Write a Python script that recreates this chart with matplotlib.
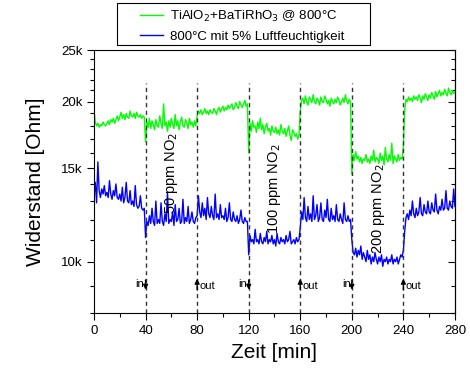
import numpy as np
import matplotlib
matplotlib.use("Agg")
import matplotlib.pyplot as plt
from matplotlib.patches import Rectangle
from matplotlib.ticker import FixedLocator, NullFormatter, MultipleLocator

plt.rcParams['font.family'] = ['Liberation Sans', 'DejaVu Sans']

# Zeit in min (1 min Schritte)
zeit = np.arange(0, 281, 1)

# Widerstand in kOhm, TiAlO2+BaTiRhO3 @ 800°C (grün)
gruen = [
    19.3, 18.3, 18.0, 18.2, 17.9, 18.1, 18.0, 18.3, 18.1, 18.0,
    18.2, 18.4, 18.1, 18.5, 18.3, 18.6, 18.2, 18.5, 18.8, 18.4,
    18.7, 19.1, 18.6, 18.9, 18.5, 19.0, 18.7, 18.6, 19.2, 18.8,
    18.7, 19.0, 18.6, 19.1, 18.8, 18.7, 18.9, 18.6, 18.8, 18.7,
    16.8, 18.3, 17.9, 18.6, 17.8, 18.4, 18.1, 17.7, 18.5, 18.0,
    17.9, 18.8, 18.2, 17.8, 19.8, 18.0, 18.3, 17.6, 18.4, 17.9,
    18.6, 18.1, 17.8, 18.9, 18.0, 18.4, 17.7, 18.3, 18.7, 18.0,
    17.9, 18.5, 18.2, 17.8, 18.6, 18.1, 18.3, 17.9, 18.4, 18.0,
    18.8, 19.2, 19.0, 19.3, 18.9, 19.1, 19.4, 19.0, 19.2, 18.9,
    19.3, 19.1, 19.0, 19.4, 19.2, 18.9, 19.3, 19.5, 19.1, 19.4,
    19.6, 19.2, 19.5, 19.3, 19.7, 19.4, 19.6, 19.8, 19.3, 19.5,
    19.9, 19.6, 19.4, 20.0, 19.7, 19.5, 19.8, 20.1, 19.6, 19.8,
    16.0, 18.2, 17.6, 18.4, 17.9, 18.0, 17.5, 18.3, 17.8, 18.6,
    17.7, 18.1, 17.4, 17.9, 18.2, 17.6, 17.8, 17.3, 18.0, 17.6,
    17.5, 17.9, 17.4, 17.7, 17.3, 18.1, 17.6, 17.4, 17.8, 17.2,
    17.6, 18.0, 17.3, 16.9, 17.7, 17.5, 17.2, 17.4, 17.0, 17.3,
    19.2, 20.1, 20.3, 19.8, 20.5, 20.0, 19.7, 20.4, 20.2, 19.9,
    20.6, 20.0, 19.8, 20.3, 20.1, 19.7, 20.4, 20.0, 19.9, 20.5,
    20.2, 19.8, 20.1, 19.6, 20.3, 20.0, 19.8, 20.2, 19.9, 20.4,
    20.1, 19.7, 20.0, 20.3, 19.9, 20.6, 20.1, 19.8, 20.2, 20.0,
    14.6, 15.9, 15.5, 16.1, 15.6, 15.8, 15.4, 15.7, 15.3, 15.6,
    15.5, 15.9, 15.4, 15.6, 15.3, 15.8, 15.5, 16.2, 15.4, 15.7,
    15.6, 15.3, 16.0, 15.5, 15.8, 15.2, 16.4, 15.6, 15.4, 15.9,
    15.5, 16.7, 15.3, 15.8, 15.6, 15.4, 15.9, 15.5, 15.7, 15.6,
    16.5, 19.3, 20.2, 20.0, 20.4, 20.1, 20.3, 20.0, 20.5, 20.2,
    20.4, 20.1, 20.6, 20.3, 19.9, 20.5, 20.2, 20.7, 20.4, 20.1,
    20.6, 20.3, 20.8, 20.5, 20.2, 20.9, 20.4, 20.7, 21.0, 20.5,
    20.8, 20.6, 21.1, 20.7, 20.5, 21.2, 20.8, 20.6, 21.0, 20.7,
    20.9,
]

# Widerstand in kOhm, 800°C mit 5% Luftfeuchtigkeit (blau)
blau = [
    13.3, 14.1, 12.9, 15.4, 13.6, 13.2, 13.7, 13.4, 13.9, 13.3,
    13.5, 13.2, 14.2, 13.4, 13.1, 13.6, 13.3, 14.0, 13.2, 13.1,
    13.4, 13.0, 13.8, 12.9, 13.2, 14.1, 13.0, 12.9, 13.6, 12.8,
    13.0, 12.7, 13.9, 12.8, 12.6, 12.7, 13.3, 12.6, 12.5, 12.6,
    11.1, 11.9, 11.7, 12.2, 11.8, 12.6, 11.9, 11.7, 13.0, 11.8,
    12.0, 11.8, 12.9, 11.9, 11.7, 12.3, 11.9, 13.5, 11.8, 12.0,
    11.9, 12.4, 11.7, 12.8, 11.9, 12.0, 12.6, 11.8, 11.9, 13.1,
    11.8, 12.1, 11.9, 12.7, 11.8, 12.0, 12.4, 11.9, 11.8, 12.1,
    12.2, 13.3, 12.4, 12.1, 12.9, 12.2, 12.6, 12.0, 13.2, 12.3,
    12.1, 12.7, 12.2, 12.0, 13.4, 12.1, 12.3, 12.0, 12.8, 12.1,
    12.2, 12.0, 12.6, 11.9, 12.1, 12.9, 12.0, 11.9, 12.4, 12.0,
    11.9, 12.2, 11.8, 12.0, 12.5, 11.9, 11.8, 12.1, 11.9, 11.9,
    10.3, 11.2, 10.9, 11.0, 10.8, 11.5, 10.9, 11.0, 10.8, 11.3,
    10.9, 10.8, 11.1, 10.9, 11.4, 10.8, 11.0, 10.9, 11.2, 10.8,
    11.0, 10.7, 11.3, 10.9, 10.8, 11.1, 10.9, 11.0, 10.8, 11.2,
    10.9, 11.0, 11.4, 10.8, 10.9, 11.0, 10.8, 11.1, 10.9, 11.0,
    11.6, 12.4, 12.0, 13.2, 12.1, 11.9, 12.7, 12.0, 12.3, 11.9,
    13.3, 12.0, 12.2, 12.8, 11.9, 12.1, 12.9, 12.0, 11.9, 12.5,
    12.1, 13.1, 12.0, 11.9, 12.6, 12.0, 12.2, 11.9, 12.8, 12.0,
    11.9, 12.3, 12.0, 11.8, 12.9, 12.0, 11.9, 12.2, 11.9, 12.0,
    11.0, 10.4, 10.3, 10.6, 10.2, 10.5, 10.3, 10.7, 10.1, 10.4,
    10.2, 10.0, 10.5, 10.1, 10.3, 9.9, 10.2, 10.0, 10.4, 10.1,
    9.9, 10.2, 10.0, 10.3, 9.8, 10.1, 10.0, 10.2, 9.9, 10.1,
    10.0, 10.3, 9.9, 10.1, 10.0, 10.2, 9.9, 10.1, 10.3, 10.2,
    10.5, 11.4, 12.1, 12.3, 12.0, 12.5, 12.2, 13.0, 12.3, 12.1,
    12.6, 12.2, 12.4, 13.2, 12.3, 12.2, 12.8, 12.4, 12.3, 13.0,
    12.4, 12.3, 12.9, 12.5, 12.4, 13.4, 12.5, 12.3, 12.7, 12.5,
    13.1, 12.5, 12.6, 13.6, 12.6, 12.5, 13.0, 12.7, 12.6, 13.7,
    12.7,
]

# Gas ein / aus
t_in = [40, 120, 200]
t_out = [80, 160, 240]
no2_labels = ["50 ppm NO$_2$", "100 ppm NO$_2$", "200 ppm NO$_2$"]
no2_x = [60, 140, 221]
no2_y = [14.7, 13.7, 12.6]

fig = plt.figure(figsize=(4.7, 3.68), dpi=100)
ax = fig.add_axes([0.2, 0.149, 0.768, 0.715])

ax.plot(zeit, gruen, color='#00ff00', lw=1.0, label='TiAlO$_2$+BaTiRhO$_3$ @ 800°C')
ax.plot(zeit, blau, color='#0000ff', lw=1.0, label='800°C mit 5% Luftfeuchtigkeit')

ax.set_yscale('log')
ax.set_xlim(0, 280)
ax.set_ylim(8, 25)

# gestrichelte Linien
ax.vlines(t_in + t_out, 8, 21.7, colors='#333333', linestyles=(0, (3, 2.5)), lw=1.0)

for t in t_in:
    ax.annotate('', xy=(t, 8.75), xytext=(t, 9.35),
                arrowprops=dict(arrowstyle='-|>', color='k', lw=1.0, mutation_scale=7))
    ax.text(t - 1, 9.08, 'in', ha='right', va='center', fontsize=8)
for t in t_out:
    ax.annotate('', xy=(t, 9.4), xytext=(t, 8.75),
                arrowprops=dict(arrowstyle='-|>', color='k', lw=1.0, mutation_scale=7))
    ax.text(t + 2, 9.0, 'out', ha='left', va='center', fontsize=8)

for x, y, s in zip(no2_x, no2_y, no2_labels):
    ax.text(x, y, s, rotation=90, ha='center', va='center', fontsize=10.5)

# Achsen
ax.yaxis.set_major_locator(FixedLocator([10, 15, 20, 25]))
ax.yaxis.set_minor_locator(FixedLocator([8, 9, 11, 12, 13, 14, 16, 17, 18, 19, 21, 22, 23, 24]))
ax.set_yticklabels(['10k', '15k', '20k', '25k'])
ax.yaxis.set_minor_formatter(NullFormatter())
ax.xaxis.set_major_locator(MultipleLocator(40))
ax.xaxis.set_minor_locator(MultipleLocator(20))

ax.tick_params(axis='both', which='major', labelsize=9.5, length=5, width=0.8, direction='out')
ax.tick_params(axis='both', which='minor', length=3, width=0.8, direction='out')

# rechte Achse mit Ticks nach innen
sec = ax.secondary_yaxis('right')
sec.yaxis.set_major_locator(FixedLocator([10, 15, 20, 25]))
sec.yaxis.set_minor_locator(FixedLocator([8, 9, 11, 12, 13, 14, 16, 17, 18, 19, 21, 22, 23, 24]))
sec.yaxis.set_major_formatter(NullFormatter())
sec.yaxis.set_minor_formatter(NullFormatter())
sec.tick_params(which='major', direction='in', length=5, width=0.8)
sec.tick_params(which='minor', direction='in', length=3, width=0.8)

ax.set_xlabel('Zeit [min]', fontsize=15, labelpad=4)
ax.set_ylabel('Widerstand [Ohm]', fontsize=15, labelpad=11)

# Legende mit eigenem Rahmen
fig.legend(loc='upper left', bbox_to_anchor=(140 / 470, 1 - 9 / 368), fontsize=9.5,
           frameon=False, handlelength=1.75, borderpad=0, borderaxespad=0,
           labelspacing=0.5, handletextpad=0.55)
fig.patches.append(Rectangle((117 / 470, 1 - 45 / 368), 253 / 470, 42 / 368,
                             transform=fig.transFigure, fill=False,
                             edgecolor='k', lw=0.8))

fig.savefig('out.png', dpi=100)
